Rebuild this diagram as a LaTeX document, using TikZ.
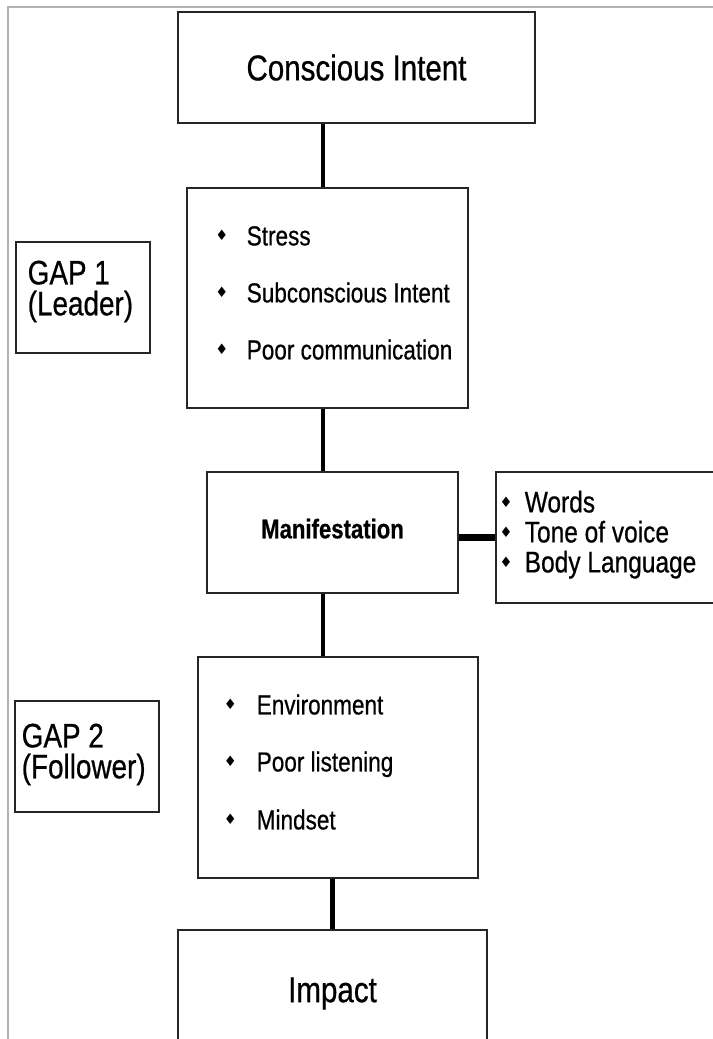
\documentclass[tikz,border=0pt]{standalone}
\usepackage{fontspec}
\setmainfont[FakeStretch=0.82, FakeBold=0.6]{Liberation Sans}
\newfontfamily\bulfont{DejaVu Sans}
\usetikzlibrary{calc}
\newcommand{\bul}[1]{\llap{\raisebox{2.9pt}{\bulfont\fontsize{8.2pt}{8pt}\selectfont ♦}\hspace{#1}}}

\begin{document}
\begin{tikzpicture}[x=0.02cm, y=-0.02cm,
	box/.style={draw=black!85, line width=0.7pt, inner sep=0pt},
	title/.style={font=\fontsize{20.5pt}{24pt}\selectfont},
	link/.style={line width=2.6pt},
	item/.style={anchor=base west, inner sep=0pt, font=\fontsize{15.65pt}{18pt}\selectfont},
	sideitem/.style={anchor=base west, inner sep=0pt, font=\fontsize{17pt}{20pt}\selectfont},
	gaptext/.style={anchor=west, inner sep=0pt, align=left, font=\fontsize{19.35pt}{17.6pt}\selectfont}]
\useasboundingbox (0,0) rectangle (713,1039);
\draw [gray!60, line width=0.8pt] (8,1039) -- (8,7) -- (713,7);

\node [box, title, minimum width=7.14cm, minimum height=2.22cm] (cons) at (356.5,67.5) {Conscious Intent};
\node [box, minimum width=5.62cm, minimum height=4.4cm] (cause) at (327.5,298) {};
\node [box, minimum width=2.68cm, minimum height=2.22cm] (gapA) at (83,297.5) {};
\node [box, minimum width=5.02cm, minimum height=2.42cm, text depth=0.16cm, font=\bfseries\fontsize{15.36pt}{18pt}\selectfont] (manif) at (332.5,532.5) {Manifestation};
\node [box, minimum width=4.68cm, minimum height=2.62cm] (signs) at (613,537.5) {};
\node [box, minimum width=5.6cm, minimum height=4.42cm] (filter) at (338,767.5) {};
\node [box, minimum width=2.88cm, minimum height=2.22cm] (gapB) at (87,756.5) {};
\node [box, title, minimum width=6.18cm, minimum height=2.54cm] (impact) at (332.5,993.5) {Impact};

\node [gaptext] (gapAtext) at ($(gapA.west)+(12,-6)$) {GAP 1\\(Leader)};
\node [gaptext] (gapBtext) at ($(gapB.west)+(7,-2)$) {GAP 2\\(Follower)};

\foreach \id/\dy/\txt in {stress/58/Stress, subint/115/Subconscious Intent, poorcom/172/Poor communication}
	\node [item] (\id) at ($(cause.north west)+(60,\dy)$) {\bul{10.5pt}\txt};
\foreach \id/\dy/\txt in {words/41/Words, tone/71/Tone of voice, body/101/Body Language}
	\node [sideitem] (\id) at ($(signs.north west)+(29,\dy)$) {\bul{7pt}\txt};
\foreach \id/\dy/\txt in {envir/58/Environment, poorlis/115/Poor listening, mindset/173/Mindset}
	\node [item] (\id) at ($(filter.north west)+(59,\dy)$) {\bul{11.3pt}\txt};

\coordinate (spine) at (323,0);
\draw [link] (cons.south -| spine) -- (cause.north -| spine);
\draw [link] (cause.south -| spine) -- (manif.north -| spine);
\draw [link] (manif.south -| spine) -- (filter.north -| spine);
\draw [link] (filter.south -| impact.north) -- (impact.north);
\draw [line width=3.6pt] (manif.east |- signs.west) -- (signs.west);
\end{tikzpicture}
\end{document}
